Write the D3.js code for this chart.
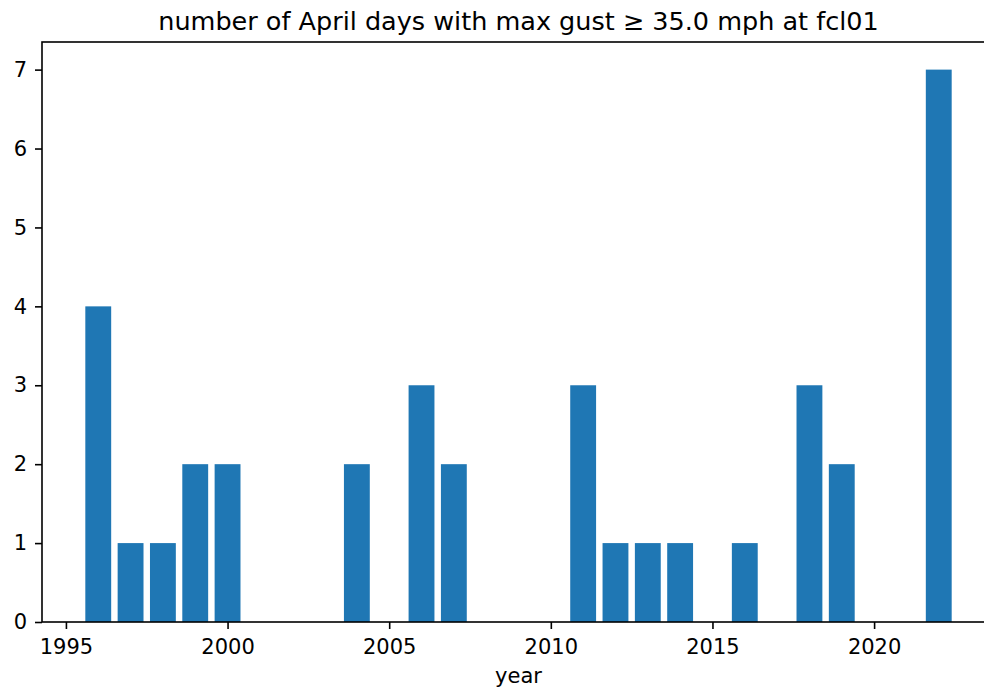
<!DOCTYPE html>
<html>
<head>
<meta charset="utf-8">
<script src="https://cdn.jsdelivr.net/npm/d3@7"></script>
<style>
  body { margin: 0; background: #fff; }
  svg { display: block; font-family: "DejaVu Sans", sans-serif; }
</style>
</head>
<body>
<svg id="viz" width="984" height="688"></svg>
<script>
// april days with gust >= 35 mph, per year
const years  = [1996, 1997, 1998, 1999, 2000, 2004, 2006, 2007, 2011, 2012, 2013, 2014, 2016, 2018, 2019, 2022];
const counts = [4, 1, 1, 2, 2, 2, 3, 2, 3, 1, 1, 1, 1, 3, 2, 7];
const xTicks = [1995, 2000, 2005, 2010, 2015, 2020];
const yTicks = [0, 1, 2, 3, 4, 5, 6, 7];
const title = "number of April days with max gust \u2265 35.0 mph at fcl01";

const svg = d3.select("#viz");
const axL = 42, axR = 995, axT = 42, axB = 622;
const barWidth = 0.8;

// matplotlib style 5% margins
const lo = d3.min(years) - barWidth / 2, hi = d3.max(years) + barWidth / 2;
const pad = (hi - lo) * 0.05;
const x = d3.scaleLinear().domain([lo - pad, hi + pad]).range([axL, axR]);
const y = d3.scaleLinear().domain([0, d3.max(counts) * 1.05]).range([axB, axT]);

svg.append("g").selectAll("rect")
    .data(years.map((yr, i) => ({year: yr, n: counts[i]})))
    .join("rect")
    .attr("x", d => x(d.year - barWidth / 2))
    .attr("width", d => x(d.year + barWidth / 2) - x(d.year - barWidth / 2))
    .attr("y", d => y(d.n))
    .attr("height", d => y(0) - y(d.n))
    .attr("fill", "#1f77b4");

const xAxis = svg.append("g")
    .attr("transform", `translate(0,${axB})`)
    .call(d3.axisBottom(x).tickValues(xTicks).tickFormat(d3.format("d")).tickSize(7).tickPadding(10).tickSizeOuter(0));
const yAxis = svg.append("g")
    .attr("transform", `translate(${axL},0)`)
    .call(d3.axisLeft(y).tickValues(yTicks).tickSize(7).tickPadding(8).tickSizeOuter(0));

[xAxis, yAxis].forEach(g => {
    g.select(".domain").remove();
    g.selectAll(".tick line").attr("stroke", "#000").attr("stroke-width", 1.6);
    g.selectAll(".tick text").attr("fill", "#000").style("font-size", "21px").style("font-family", "DejaVu Sans");
});

// spines
svg.append("rect")
    .attr("x", axL).attr("y", axT)
    .attr("width", axR - axL).attr("height", axB - axT)
    .attr("fill", "none").attr("stroke", "#000").attr("stroke-width", 1.6);

svg.append("text")
    .attr("x", (axL + axR) / 2).attr("y", 30)
    .attr("text-anchor", "middle")
    .style("font-size", "25.5px")
    .text(title);

svg.append("text")
    .attr("x", (axL + axR) / 2).attr("y", 683)
    .attr("text-anchor", "middle")
    .style("font-size", "21px")
    .text("year");
</script>
</body>
</html>
